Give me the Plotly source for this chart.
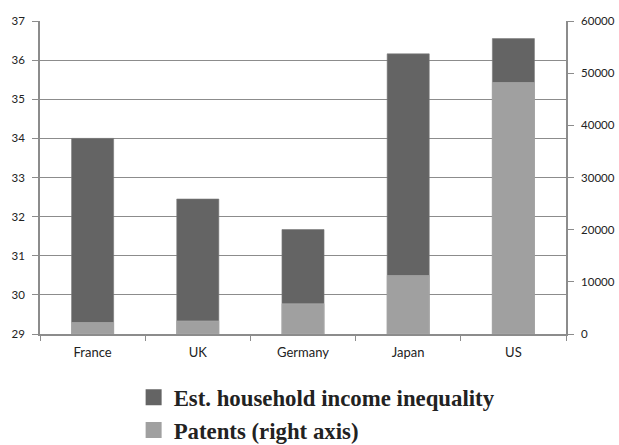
import plotly.graph_objects as go

countries = ["France", "UK", "Germany", "Japan", "US"]
inequality = [34.0, 32.45, 31.67, 36.16, 36.55]
patents = [2200, 2500, 5800, 11200, 48200]

left_ticks = [29, 30, 31, 32, 33, 34, 35, 36, 37]
right_ticks = [0, 10000, 20000, 30000, 40000, 50000, 60000]

series_names = ["Est. household income inequality", "Patents (right axis)"]
series_colors = ["#646464", "#a0a0a0"]

axis_gray = "#8c8c8c"
x_font = dict(family="Lato, Carlito, sans-serif", size=13, color="#222222")
y_font = dict(family="Lato, Carlito, sans-serif", size=11.5, color="#222222")

fig = go.Figure()
fig.add_trace(go.Bar(
    x=countries, y=inequality, name=series_names[0], showlegend=False,
    marker=dict(color=series_colors[0], line=dict(color="#7a7a7a", width=0.6)),
    width=0.4, offset=-0.2, yaxis="y",
))
fig.add_trace(go.Bar(
    x=countries, y=patents, name=series_names[1], showlegend=False,
    marker=dict(color=series_colors[1], line=dict(color="#b0b0b0", width=0.6)),
    width=0.4, offset=-0.2, yaxis="y2",
))

# legend entries with larger square swatches
for name, color in zip(series_names, series_colors):
    fig.add_trace(go.Scatter(
        x=[None], y=[None], mode="markers", name=name,
        marker=dict(symbol="square", size=16, color=color),
        showlegend=True,
    ))

fig.update_layout(
    width=619, height=445,
    margin=dict(l=40, r=53, t=21, b=111, autoexpand=False),
    paper_bgcolor="white", plot_bgcolor="white",
    barmode="overlay",
    showlegend=True,
    legend=dict(
        x=0.178, y=-0.134, xanchor="left", yanchor="top",
        orientation="v", traceorder="normal",
        font=dict(family="Liberation Serif, Times New Roman, serif", size=22.8,
                  color="#222222", weight="bold"),
        itemsizing="trace", tracegroupgap=0,
    ),
    xaxis=dict(
        showline=True, linecolor=axis_gray, linewidth=1.5,
        ticks="outside", tickson="boundaries", ticklen=5, tickcolor=axis_gray,
        tickfont=x_font, showgrid=False, ticklabelstandoff=6,
    ),
    yaxis=dict(
        range=[29, 37], tickvals=left_ticks,
        showline=True, linecolor=axis_gray, linewidth=1.5,
        ticks="outside", ticklen=6, tickcolor=axis_gray,
        showgrid=True, gridcolor=axis_gray, gridwidth=1,
        tickfont=y_font, zeroline=False, ticklabelstandoff=5,
    ),
    yaxis2=dict(
        range=[0, 60000], tickvals=right_ticks, overlaying="y", side="right",
        showline=True, linecolor=axis_gray, linewidth=1.5,
        ticks="outside", ticklen=6, tickcolor=axis_gray,
        showgrid=False, zeroline=False, tickformat="d",
        tickfont=y_font, ticklabelstandoff=5,
    ),
)

fig.write_html("out.html")
